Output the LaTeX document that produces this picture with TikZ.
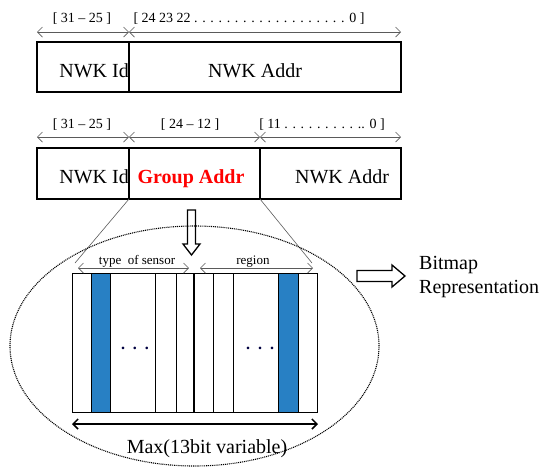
\documentclass[tikz,border=0pt]{standalone}
\usepackage{fontspec}
\setmainfont{Liberation Serif}
\usetikzlibrary{arrows.meta,shapes.geometric}
\definecolor{bitblue}{RGB}{40,128,196}
\definecolor{lgray}{RGB}{90,90,90}
\begin{document}
\begin{tikzpicture}[x=1pt,y=-1pt,
  fieldbox/.style={draw=black,line width=1.8pt},
  rng/.style={draw=lgray,line width=0.7pt,{Straight Barb[length=5pt,width=10pt]}-{Straight Barb[length=5pt,width=10pt]}},
  brk/.style={font=\fontsize{14}{16}\selectfont,inner sep=0pt,anchor=base},
  fld/.style={font=\fontsize{20}{24}\selectfont,inner sep=0pt,anchor=base},
  small/.style={font=\fontsize{13}{15}\selectfont,inner sep=0pt,anchor=base},
  thinline/.style={draw=black,line width=0.5pt},
  hollow/.style={draw=black,line width=1.5pt,fill=white},
  elldots/.style={font=\fontsize{16}{18}\selectfont\bfseries,inner sep=0pt,anchor=base,text=black!75!blue}]
\useasboundingbox (0,0) rectangle (550,475);

% ---- first field row
\draw[fieldbox] (37,42) rectangle (401,92);
\draw[fieldbox] (129,42) -- (129,92);
\coordinate (a0) at (37,32);
\coordinate (a1) at (129,32);
\coordinate (a2) at (401,32);
\draw[rng] (a0) -- (a1);
\draw[rng] (a1) -- (a2);
\node[brk] (b1) at (82,22) {[ 31 -- 25 ]};
\node[brk] (b2) at (249,22) {[ 24 23 22 . . . . . . . . . . . . . . . . . . . 0 ]};
\node[fld,anchor=base east] (id1) at (129,77) {NWK Id};
\node[fld] (ad1) at (255,77) {NWK Addr};

% ---- second field row
\draw[fieldbox] (37,148) rectangle (401,199);
\draw[fieldbox] (129,148) -- (129,199);
\draw[fieldbox] (260,148) -- (260,199);
\coordinate (c0) at (37,137);
\coordinate (c1) at (129,137);
\coordinate (c2) at (260,137);
\coordinate (c3) at (401,137);
\draw[rng] (c0) -- (c1);
\draw[rng] (c1) -- (c2);
\draw[rng] (c2) -- (c3);
\node[brk] (b3) at (82,128) {[ 31 -- 25 ]};
\node[brk] (b4) at (190,128) {[ 24 -- 12 ]};
\node[brk] (b5) at (322,128) {[ 11 . . . . . . . . . .. 0 ]};
\node[fld,anchor=base east] (id2) at (129,183) {NWK Id};
\node[fld,text=red,font=\fontsize{20}{24}\selectfont\bfseries] (grp) at (191,183) {Group Addr};
\node[fld] (ad2) at (342,183) {NWK Addr};

% ---- zoom lines
\coordinate (g0) at (129,199);
\coordinate (g1) at (260,199);
\coordinate (z0) at (75,263);
\coordinate (z1) at (312,263);
\draw[lgray,line width=0.6pt] (g0) -- (z0);
\draw[lgray,line width=0.6pt] (g1) -- (z1);

% ---- down hollow arrow
\draw[hollow,line width=1.3pt] (187.5,210) -- (195.5,210) -- (195.5,244) -- (200,244) -- (191.5,255) -- (183,244) -- (187.5,244) -- cycle;

% ---- ellipse
\node[draw=black,dash pattern=on 1pt off 0.9pt,line width=1.1pt,ellipse,minimum width=369pt,minimum height=240pt,inner sep=0pt] (ell) at (194.5,346) {};

% ---- bitmap
\fill[bitblue] (91,273) rectangle (110,412);
\fill[bitblue] (278,273) rectangle (298,412);
\draw[thinline] (72,273) rectangle (317,412);
\foreach \xx in {91,110,155,176,213,233,278,298} \draw[thinline] (\xx,273) -- (\xx,412);
\draw[black,line width=1.6pt] (194,273) -- (194,412);
\node[elldots] (d1) at (135,349) {.\ \ .\ \ .};
\node[elldots] (d2) at (260,349) {.\ \ .\ \ .};

\coordinate (t0) at (78,268);
\coordinate (t1) at (189,268);
\coordinate (r0) at (200,268);
\coordinate (r1) at (313,268);
\draw[rng] (t0) -- (t1);
\draw[rng] (r0) -- (r1);
\node[small] (ts) at (137,264) {type\ \ of sensor};
\node[small] (rg) at (253,264) {region};

\coordinate (m0) at (72,424);
\coordinate (m1) at (318,424);
\draw[black,line width=1.5pt,{Straight Barb[length=5pt,width=10pt]}-{Straight Barb[length=5pt,width=10pt]}] (m0) -- (m1);
\node[fld] (mx) at (207,453) {Max(13bit variable)};

% ---- right hollow arrow and label
\draw[hollow,line width=1.3pt] (357,270.5) -- (392,270.5) -- (392,265) -- (405,276) -- (392,287) -- (392,281.5) -- (357,281.5) -- cycle;
\node[font=\fontsize{20}{24}\selectfont,align=left,anchor=west,inner sep=0pt] (bm) at (419,277) {Bitmap\\Representation};
\end{tikzpicture}
\end{document}
